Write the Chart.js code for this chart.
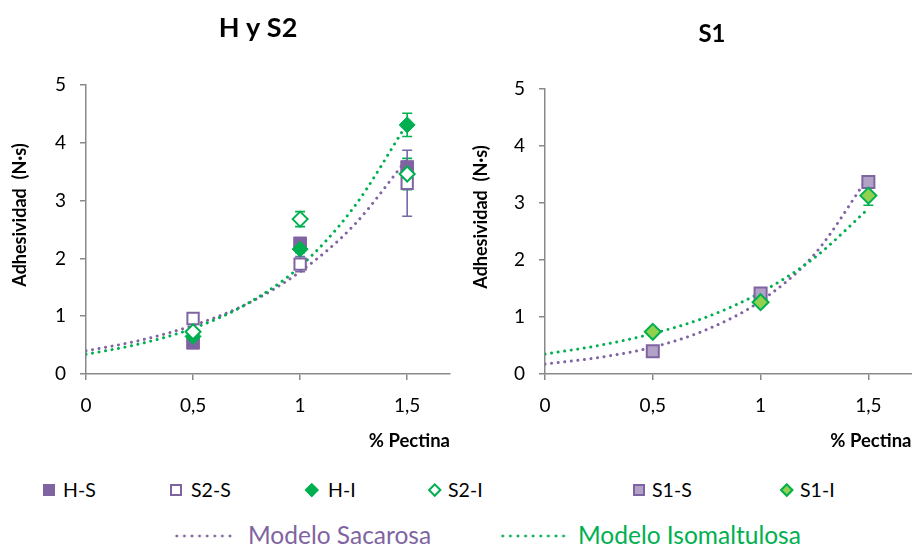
<!DOCTYPE html>
<html lang="es">
<head>
<meta charset="utf-8">
<title>Adhesividad - % Pectina</title>
<script src="https://cdn.jsdelivr.net/npm/chart.js@4.4.1/dist/chart.umd.min.js"></script>
<style>
  body { margin: 0; background: #fff; font-family: Lato, sans-serif; }
  #lienzo { position: relative; width: 912px; height: 545px; overflow: hidden; }
  #grafH { position: absolute; left: 0; top: 0; }
  #grafS1 { position: absolute; left: 460px; top: 0; }
  .ley { position: absolute; font-size: 19.5px; line-height: 1; transform: translateY(-50%); white-space: nowrap; color: #000; }
  .marca { position: absolute; box-sizing: border-box; }
  .puntos { position: absolute; height: 4px; transform: translateY(-50%); }
</style>
</head>
<body>
<div id="lienzo">
  <canvas id="grafH" width="460" height="460"></canvas>
  <canvas id="grafS1" width="462" height="460"></canvas>
  <div id="leyenda"></div>
</div>
<script>
// % de pectina ensayados
const pectina = [0.5, 1, 1.5];
const marcasX = [0, 0.5, 1, 1.5];

// Adhesividad media (N·s) y desviación
const hS = [0.54, 2.26, 3.58];
const hSErr = [0.04, 0.06, 0.08];
const s2S = [0.96, 1.90, 3.30];
const s2SErr = [0.04, 0.13, 0.57];
const hI = [0.65, 2.16, 4.31];
const hIErr = [0.05, 0.06, 0.20];
const s2I = [0.73, 2.68, 3.46];
const s2IErr = [0.05, 0.13, 0.27];
const s1S = [0.40, 1.41, 3.37];
const s1SErr = [0.03, 0.05, 0.05];
const s1I = [0.74, 1.26, 3.13];
const s1IErr = [0.04, 0.05, 0.17];

// Curvas de los modelos
const xModelo = [0, 0.25, 0.5, 0.75, 1, 1.25, 1.5];
const modSacHS2 = [0.40, 0.58, 0.84, 1.21, 1.77, 2.57, 3.72];
const modIsoHS2 = [0.34, 0.52, 0.79, 1.21, 1.86, 2.88, 4.33];
const modSacS1 = [0.175, 0.29, 0.47, 0.78, 1.28, 2.10, 3.46];
const modIsoS1 = [0.35, 0.50, 0.71, 1.00, 1.43, 2.04, 2.90];

const morado = '#8064A2';
const moradoClaro = '#B3A2C7';
const moradoError = '#7468A6';
const verde = '#00B050';
const verdeClaro = '#92D050';
const gris = '#898989';

function puntos(xs, ys) {
  return xs.map((x, i) => ({ x: x, y: ys[i] }));
}

function serie(nombre, ys, err, forma, relleno, borde, grosor, radio) {
  return {
    label: nombre,
    data: puntos(pectina, ys),
    errores: err,
    colorError: borde === morado ? moradoError : borde,
    showLine: false,
    pointStyle: forma,
    pointRadius: radio,
    pointBackgroundColor: relleno,
    pointBorderColor: borde,
    pointBorderWidth: grosor
  };
}

function modelo(nombre, ys, color) {
  return {
    label: nombre,
    data: puntos(xModelo, ys),
    showLine: true,
    pointRadius: 0,
    borderColor: color,
    borderWidth: 3,
    borderDash: [0.01, 6.6],
    borderCapStyle: 'round',
    cubicInterpolationMode: 'monotone',
    fill: false
  };
}

// barras de error con los valores de cada serie
const barrasError = {
  id: 'barrasError',
  beforeDatasetsDraw(chart) {
    const ctx = chart.ctx;
    const x = chart.scales.x, y = chart.scales.y;
    chart.data.datasets.forEach(ds => {
      if (!ds.errores) return;
      ctx.save();
      ctx.strokeStyle = ds.colorError;
      ctx.lineWidth = 1.6;
      ds.data.forEach((p, i) => {
        const e = ds.errores[i];
        const px = x.getPixelForValue(p.x);
        const y1 = y.getPixelForValue(p.y + e);
        const y2 = y.getPixelForValue(p.y - e);
        ctx.beginPath();
        ctx.moveTo(px, y1); ctx.lineTo(px, y2);
        ctx.moveTo(px - 5, y1); ctx.lineTo(px + 5, y1);
        ctx.moveTo(px - 5, y2); ctx.lineTo(px + 5, y2);
        ctx.stroke();
      });
      ctx.restore();
    });
  }
};

// título del gráfico y rótulo del eje Y
const titulos = {
  id: 'titulos',
  afterDraw(chart, args, o) {
    const ctx = chart.ctx;
    ctx.save();
    ctx.fillStyle = '#000';
    ctx.textAlign = 'center';
    ctx.textBaseline = 'middle';
    ctx.font = 'bold ' + o.tam + 'px Lato';
    ctx.fillText(o.texto, o.x, o.y);
    ctx.translate(o.xEje, o.yEje);
    ctx.rotate(-Math.PI / 2);
    ctx.font = 'bold 18px Lato';
    ctx.fillText('Adhesividad  (N·s)', 0, 0);
    ctx.restore();
  }
};

function opciones(anchoY, relleno, tit) {
  return {
    responsive: false,
    animation: false,
    layout: { padding: relleno },
    plugins: {
      legend: { display: false },
      tooltip: { enabled: false },
      titulos: tit
    },
    scales: {
      x: {
        type: 'linear',
        min: 0,
        max: 1.7,
        afterBuildTicks: s => { s.ticks = marcasX.map(v => ({ value: v })); },
        afterFit: s => { s.height = 86; },
        border: { color: gris, width: 1.5 },
        grid: { drawOnChartArea: false, drawTicks: true, tickLength: 6, color: gris, lineWidth: 1.5 },
        ticks: {
          padding: 14,
          color: '#000',
          font: { family: 'Lato', size: 19 },
          callback: v => String(v).replace('.', ',')
        },
        title: {
          display: true,
          text: '% Pectina',
          align: 'end',
          color: '#000',
          font: { family: 'Lato', size: 18.5, weight: 'bold' },
          padding: { top: 0, bottom: 8 }
        }
      },
      y: {
        min: 0,
        max: 5,
        afterFit: s => { s.width = anchoY; },
        border: { color: gris, width: 1.5 },
        grid: { drawOnChartArea: false, drawTicks: true, tickLength: 6, color: gris, lineWidth: 1.5 },
        ticks: {
          stepSize: 1,
          padding: 14,
          color: '#000',
          font: { family: 'Lato', size: 19 }
        }
      }
    }
  };
}

new Chart(document.getElementById('grafH').getContext('2d'), {
  type: 'scatter',
  data: {
    datasets: [
      serie('S2-I', s2I, s2IErr, 'rectRot', '#fff', verde, 2, 7.5),
      serie('H-I', hI, hIErr, 'rectRot', verde, verde, 1, 8),
      serie('S2-S', s2S, s2SErr, 'rect', '#fff', morado, 2, 8),
      serie('H-S', hS, hSErr, 'rect', morado, morado, 1, 9),
      modelo('Modelo Isomaltulosa', modIsoHS2, verde),
      modelo('Modelo Sacarosa', modSacHS2, morado)
    ]
  },
  options: opciones(86, { top: 85, right: 6, left: 0, bottom: 0 },
    { texto: 'H y S2', tam: 27, x: 258, y: 28, xEje: 20, yEje: 215 }),
  plugins: [barrasError, titulos]
});

new Chart(document.getElementById('grafS1').getContext('2d'), {
  type: 'scatter',
  data: {
    datasets: [
      serie('S1-I', s1I, s1IErr, 'rectRot', verdeClaro, verde, 2, 8),
      serie('S1-S', s1S, s1SErr, 'rect', moradoClaro, morado, 2, 8.5),
      modelo('Modelo Isomaltulosa', modIsoS1, verde),
      modelo('Modelo Sacarosa', modSacS1, morado)
    ]
  },
  options: opciones(85, { top: 89, right: 0, left: 0, bottom: 0 },
    { texto: 'S1', tam: 24, x: 252, y: 34, xEje: 21, yEje: 217 }),
  plugins: [barrasError, titulos]
});

// leyenda común bajo los dos gráficos
const itemsLeyenda = [
  { texto: 'H-S', cx: 49, tx: 63, forma: 'cuadro', fondo: morado, borde: morado },
  { texto: 'S2-S', cx: 176, tx: 191, forma: 'cuadro', fondo: '#fff', borde: morado },
  { texto: 'H-I', cx: 312, tx: 328, forma: 'rombo', fondo: verde, borde: verde },
  { texto: 'S2-I', cx: 435, tx: 448, forma: 'rombo', fondo: '#fff', borde: verde },
  { texto: 'S1-S', cx: 639, tx: 652, forma: 'cuadro', fondo: moradoClaro, borde: morado },
  { texto: 'S1-I', cx: 787, tx: 800, forma: 'rombo', fondo: verdeClaro, borde: verde }
];
const lineasLeyenda = [
  { texto: 'Modelo Sacarosa', x0: 173, x1: 233, tx: 248, color: morado },
  { texto: 'Modelo Isomaltulosa', x0: 499, x1: 568, tx: 578, color: verde }
];

const ley = document.getElementById('leyenda');
itemsLeyenda.forEach(it => {
  const m = document.createElement('div');
  m.className = 'marca';
  const lado = it.forma === 'cuadro' ? 12 : 9.5;
  m.style.width = lado + 'px';
  m.style.height = lado + 'px';
  m.style.left = (it.cx - lado / 2) + 'px';
  m.style.top = (490 - lado / 2) + 'px';
  m.style.background = it.fondo;
  m.style.border = '2px solid ' + it.borde;
  if (it.forma === 'rombo') m.style.transform = 'rotate(45deg)';
  ley.appendChild(m);
  const t = document.createElement('div');
  t.className = 'ley';
  t.style.left = it.tx + 'px';
  t.style.top = '490px';
  t.textContent = it.texto;
  ley.appendChild(t);
});
lineasLeyenda.forEach(l => {
  const d = document.createElement('div');
  d.className = 'puntos';
  d.style.left = l.x0 + 'px';
  d.style.top = '536px';
  d.style.width = (l.x1 - l.x0) + 'px';
  d.style.background = 'radial-gradient(circle, ' + l.color + ' 1.2px, transparent 1.7px) 0 0 / 7.6px 4px repeat-x';
  ley.appendChild(d);
  const t = document.createElement('div');
  t.className = 'ley';
  t.style.left = l.tx + 'px';
  t.style.top = '535px';
  t.style.color = l.color;
  t.style.fontSize = '24.5px';
  t.textContent = l.texto;
  ley.appendChild(t);
});
</script>
</body>
</html>
